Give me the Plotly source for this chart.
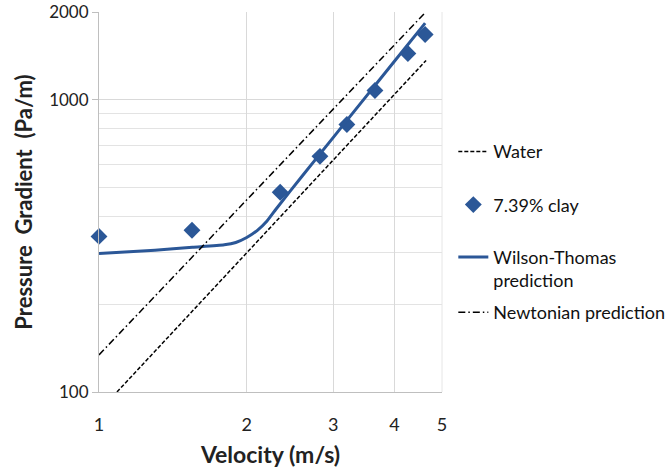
import plotly.graph_objects as go
import numpy as np

# Data
water_v = [1.088, 4.64]
water_dp = [100, 1365]

clay_v = [1.0, 1.547, 2.34, 2.82, 3.20, 3.65, 4.26, 4.62]
clay_dp = [341, 358, 483, 641, 824, 1077, 1442, 1674]

wt_v = [1.0, 1.3, 1.55, 1.8, 1.9, 2.0, 2.1, 2.2, 2.3, 2.6, 3.0, 3.5, 4.0, 4.62]
wt_dp = [298, 306, 313, 319, 325, 338, 357, 385, 425, 551, 743, 1026, 1356, 1832]

newt_v = [1.0, 4.62]
newt_dp = [134, 1990]

x_ticks = [1, 2, 3, 4, 5]
y_ticks = [100, 1000, 2000]
y_minor = [200, 300, 400, 500, 600, 700, 800, 900]

BLUE = "#2B5797"
FONT = "Lato"

fig = go.Figure()
fig.add_trace(go.Scatter(x=water_v, y=water_dp, mode="lines", name="Water",
                         line=dict(color="black", width=1.5, dash="4px,2px"),
                         legend="legend"))
fig.add_trace(go.Scatter(x=clay_v, y=clay_dp, mode="markers", name="7.39% clay",
                         marker=dict(symbol="diamond", size=13, color=BLUE),
                         cliponaxis=False, legend="legend2"))
fig.add_trace(go.Scatter(x=wt_v, y=wt_dp, mode="lines", name="Wilson-Thomas<br>prediction",
                         line=dict(color=BLUE, width=3, shape="spline", smoothing=0.6),
                         legend="legend3"))
fig.add_trace(go.Scatter(x=newt_v, y=newt_dp, mode="lines", name="Newtonian prediction",
                         line=dict(color="black", width=1.5, dash="7px,3px,1.5px,3px"),
                         legend="legend4"))

def leg(y):
    return dict(x=1.033, y=y, xanchor="left", yanchor="top",
                font=dict(family=FONT, size=18, color="#111"),
                itemwidth=30, valign="top", bgcolor="rgba(0,0,0,0)")

fig.update_layout(
    width=670, height=470,
    margin=dict(l=99, r=228, t=12, b=78, autoexpand=False),
    paper_bgcolor="white", plot_bgcolor="white",
    font=dict(family=FONT, size=16, color="#222"),
    showlegend=True,
    legend=leg(0.681), legend2=leg(0.541), legend3=leg(0.403), legend4=leg(0.258),
    shapes=[dict(type="line", xref="paper", yref="paper", x0=1, x1=1, y0=0, y1=1,
                 line=dict(color="#e6e6e6", width=1), layer="below")],
)

fig.update_xaxes(type="log", range=[0, np.log10(5)], tickvals=x_ticks,
                 ticktext=[str(v) for v in x_ticks], automargin=False,
                 showgrid=True, gridcolor="#d9d9d9", gridwidth=1,
                 showline=True, linecolor="#bfbfbf", linewidth=1,
                 ticks="", ticklabelstandoff=16, zeroline=False,
                 tickfont=dict(size=18, color="#222"),
                 title=dict(text="<b>Velocity (m/s)</b>", font=dict(size=23, color="#222"), standoff=13))
fig.update_yaxes(type="log", range=[2, np.log10(2000)], tickvals=y_ticks,
                 ticktext=[str(v) for v in y_ticks], automargin=False,
                 showgrid=True, gridcolor="#d9d9d9", gridwidth=1,
                 showline=True, linecolor="#bfbfbf", linewidth=1,
                 ticks="outside", ticklen=6, tickcolor="#bfbfbf",
                 minor=dict(tickvals=y_minor, showgrid=True, gridcolor="#e3e3e3", ticks=""),
                 zeroline=False, tickfont=dict(size=17, color="#222"),
                 title=dict(text="<b>Pressure&nbsp; Gradient&nbsp; (Pa/m)</b>",
                            font=dict(size=22, color="#222"), standoff=10))

fig.write_html("out.html")
